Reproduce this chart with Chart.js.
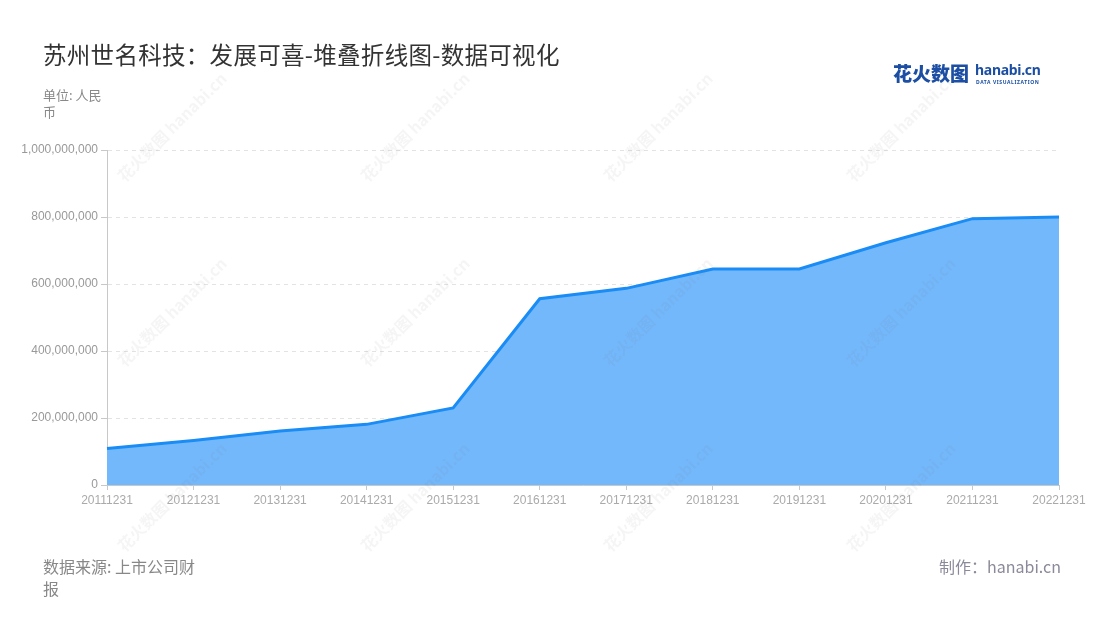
<!DOCTYPE html>
<html>
<head>
<meta charset="utf-8">
<script src="https://cdn.jsdelivr.net/npm/chart.js"></script>
<style>
  html, body { margin: 0; padding: 0; background: #fff; }
  body { width: 1100px; height: 620px; position: relative; overflow: hidden;
         font-family: "Noto Sans CJK SC", "Noto Sans", sans-serif; }
  #chart { position: absolute; left: 0; top: 0; }
  .title { position: absolute; left: 43px; top: 37px; font-size: 23.5px; color: #333; letter-spacing: 0.3px; }
  .unit { position: absolute; left: 43px; top: 86px; width: 70px; font-size: 13px; line-height: 17px; color: #888; }
  .source { position: absolute; left: 43px; top: 555px; width: 166px; font-size: 16px; line-height: 22px; color: #888; }
  .maker { position: absolute; right: 39px; top: 555px; font-size: 16px; line-height: 22px; color: #8a8a9a; }
  .logo { position: absolute; left: 893px; top: 59px; height: 30px; }
  .logo .cn { position: absolute; left: 0; top: 0; font-size: 19px; font-weight: 900; color: #1c4fa3; white-space: nowrap; letter-spacing: 0px; }
  .logo .en { position: absolute; left: 82px; top: 1px; font-size: 14px; font-weight: 700; color: #1c4fa3; font-family: "Noto Sans", sans-serif; white-space: nowrap; letter-spacing: -0.3px; }
  .logo .sub { position: absolute; left: 83px; top: 20px; font-size: 5px; font-weight: 700; color: #1c4fa3; font-family: "Noto Sans", sans-serif; white-space: nowrap; letter-spacing: 0.6px; }
</style>
</head>
<body>
<canvas id="chart" width="1100" height="620"></canvas>
<div class="title">苏州世名科技：发展可喜-堆叠折线图-数据可视化</div>
<div class="unit">单位: 人民币</div>
<div class="logo"><span class="cn">花火数图</span><span class="en">hanabi.cn</span><span class="sub">DATA VISUALIZATION</span></div>
<div class="source">数据来源: 上市公司财报</div>
<div class="maker">制作：hanabi.cn</div>
<script>
// data
const dates = ['20111231', '20121231', '20131231', '20141231', '20151231', '20161231',
               '20171231', '20181231', '20191231', '20201231', '20211231', '20221231'];
const revenue = [109000000, 133000000, 161000000, 181000000, 230000000, 556000000,
                 587000000, 645000000, 645000000, 723000000, 795000000, 800000000];
const yMax = 1000000000;
const yStep = 200000000;

// faint diagonal watermark tiles
const watermark = {
    id: 'watermark',
    afterDatasetsDraw(chart) {
        const ctx = chart.ctx;
        ctx.save();
        ctx.fillStyle = 'rgba(120,120,120,0.07)';
        ctx.font = 'bold 16px "Noto Sans CJK SC", sans-serif';
        ctx.textAlign = 'center';
        ctx.textBaseline = 'middle';
        for (let row = 0; row < 4; row++) {
            for (let col = 0; col < 4; col++) {
                const x = 172 + col * 243;
                const y = 127 + row * 185;
                ctx.save();
                ctx.translate(x, y);
                ctx.rotate(-Math.PI / 4);
                ctx.fillText('花火数图 hanabi.cn', 0, 0);
                ctx.restore();
            }
        }
        ctx.restore();
    }
};

new Chart(document.getElementById('chart').getContext('2d'), {
    type: 'line',
    data: {
        labels: dates,
        datasets: [{
            data: revenue,
            borderColor: '#1a8cf5',
            backgroundColor: '#74b8fc',
            borderWidth: 3,
            fill: 'origin',
            pointRadius: 0,
            tension: 0
        }]
    },
    options: {
        responsive: false,
        animation: false,
        layout: { padding: { left: 0, top: 150, right: 41, bottom: 0 } },
        plugins: { legend: { display: false }, tooltip: { enabled: false } },
        scales: {
            x: {
                offset: false,
                afterFit(scale) { scale.height = 135; },
                grid: { drawOnChartArea: false, drawTicks: true, tickLength: 5, tickColor: '#c8c8c8' },
                border: { display: true, color: '#c8c8c8' },
                ticks: { color: '#aaa', font: { size: 12 }, padding: 3, maxRotation: 0, autoSkip: false }
            },
            y: {
                min: 0,
                max: yMax,
                afterFit(scale) { scale.width = 107; },
                grid: { color: '#e3e3e3', tickLength: 6, tickColor: '#c8c8c8', tickBorderDash: [] },
                border: { display: true, color: '#c8c8c8', dash: [4, 4] },
                ticks: {
                    stepSize: yStep,
                    color: '#999',
                    font: { size: 12 },
                    padding: 3,
                    callback: v => v.toLocaleString('en-US')
                }
            }
        }
    },
    plugins: [watermark]
});
</script>
</body>
</html>
